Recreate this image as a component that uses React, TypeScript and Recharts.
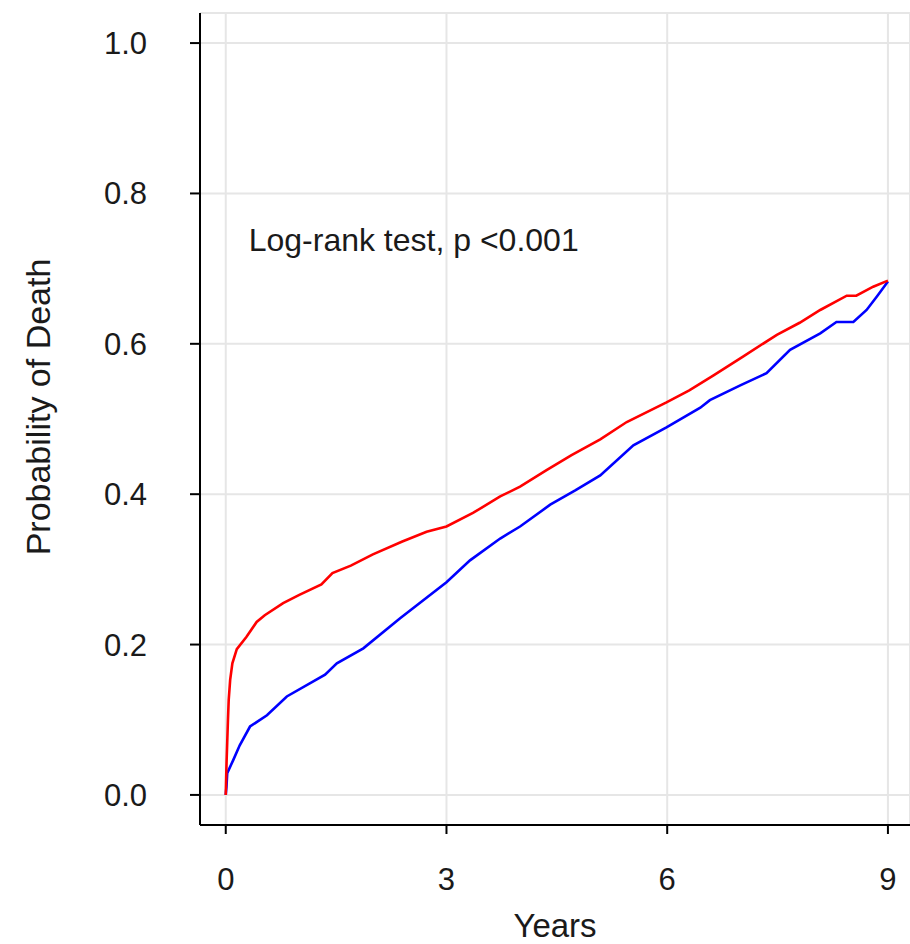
import { LineChart, Line, XAxis, YAxis, CartesianGrid, ReferenceDot } from 'recharts';

const xTicks = [0, 3, 6, 9];
const yTicks = [0, 0.2, 0.4, 0.6, 0.8, 1.0];

// red group (higher mortality)
const redYears = [0, 0.01, 0.02, 0.03, 0.04, 0.06, 0.09, 0.15, 0.28, 0.42, 0.53, 0.78, 1.0, 1.3, 1.45, 1.7, 2.0, 2.4, 2.73, 3.0, 3.36, 3.73, 4.0, 4.36, 4.7, 5.09, 5.45, 5.99, 6.3, 6.63, 7.03, 7.49, 7.8, 8.08, 8.44, 8.57, 8.8, 9.0];
const redProb = [0, 0.04, 0.07, 0.1, 0.126, 0.153, 0.175, 0.194, 0.21, 0.23, 0.239, 0.255, 0.266, 0.28, 0.295, 0.305, 0.32, 0.337, 0.35, 0.357, 0.375, 0.397, 0.41, 0.432, 0.452, 0.473, 0.496, 0.522, 0.538, 0.558, 0.583, 0.612, 0.628, 0.645, 0.664, 0.664, 0.676, 0.684];

// blue group
const blueYears = [0, 0.01, 0.02, 0.1, 0.19, 0.33, 0.56, 0.83, 1.19, 1.35, 1.51, 1.87, 2.37, 3.0, 3.32, 3.73, 4.0, 4.41, 4.75, 5.09, 5.54, 5.99, 6.45, 6.58, 7.0, 7.35, 7.67, 8.08, 8.3, 8.53, 8.71, 8.85, 9.0];
const blueProb = [0, 0.011, 0.029, 0.046, 0.066, 0.091, 0.106, 0.131, 0.151, 0.16, 0.175, 0.195, 0.235, 0.283, 0.312, 0.341, 0.357, 0.386, 0.405, 0.425, 0.465, 0.489, 0.515, 0.525, 0.545, 0.561, 0.592, 0.614, 0.629, 0.629, 0.645, 0.663, 0.683];

const redData = redYears.map((t, i) => ({ t, p: redProb[i] }));
const blueData = blueYears.map((t, i) => ({ t, p: blueProb[i] }));

const font = '"Liberation Sans", Arial, sans-serif';
const textColor = '#1a1a1a';

export default function App() {
  return (
    <div style={{ position: 'absolute', left: 0, top: 0, width: 910, height: 944, overflow: 'hidden', background: '#fff' }}>
      <LineChart width={910} height={944} margin={{ top: 13, right: 0, bottom: 0, left: 0 }}>
        <CartesianGrid stroke="#e6e6e6" strokeWidth={2} />
        <XAxis
          type="number"
          dataKey="t"
          domain={[-0.35, 9.3]}
          ticks={xTicks}
          allowDataOverflow
          height={119}
          tickSize={9}
          tickMargin={34}
          axisLine={{ stroke: '#000', strokeWidth: 2 }}
          tickLine={{ stroke: '#000', strokeWidth: 2 }}
          tick={{ fill: textColor, fontSize: 31, fontFamily: font }}
          label={{
            content: ({ viewBox }: any) => (
              <text
                x={viewBox.x + viewBox.width / 2}
                y={viewBox.y + 112}
                textAnchor="middle"
                fill={textColor}
                fontSize={33}
                fontFamily={font}
              >
                Years
              </text>
            ),
          }}
        />
        <YAxis
          type="number"
          dataKey="p"
          domain={[-0.04, 1.04]}
          ticks={yTicks}
          allowDataOverflow
          width={200}
          tickSize={10}
          tickMargin={43}
          tickFormatter={(v: number) => v.toFixed(1)}
          axisLine={{ stroke: '#000', strokeWidth: 2 }}
          tickLine={{ stroke: '#000', strokeWidth: 2 }}
          tick={{ fill: textColor, fontSize: 31, fontFamily: font }}
          label={{
            content: ({ viewBox }: any) => {
              const cx = viewBox.x + 50;
              const cy = viewBox.y + viewBox.height / 2 - 12;
              return (
                <text
                  x={cx}
                  y={cy}
                  transform={`rotate(-90, ${cx}, ${cy})`}
                  textAnchor="middle"
                  fill={textColor}
                  fontSize={34}
                  fontFamily={font}
                >
                  Probability of Death
                </text>
              );
            },
          }}
        />
        <Line data={blueData} dataKey="p" stroke="#0000ff" strokeWidth={2.6} dot={false} isAnimationActive={false} />
        <Line data={redData} dataKey="p" stroke="#ff0000" strokeWidth={2.6} dot={false} isAnimationActive={false} />
        <ReferenceDot
          x={0.23}
          y={0.738}
          r={1}
          fill="none"
          stroke="none"
          label={{ value: 'Log-rank test, p <0.001', position: 'right', fill: textColor, fontSize: 32, fontFamily: font }}
        />
      </LineChart>
    </div>
  );
}
